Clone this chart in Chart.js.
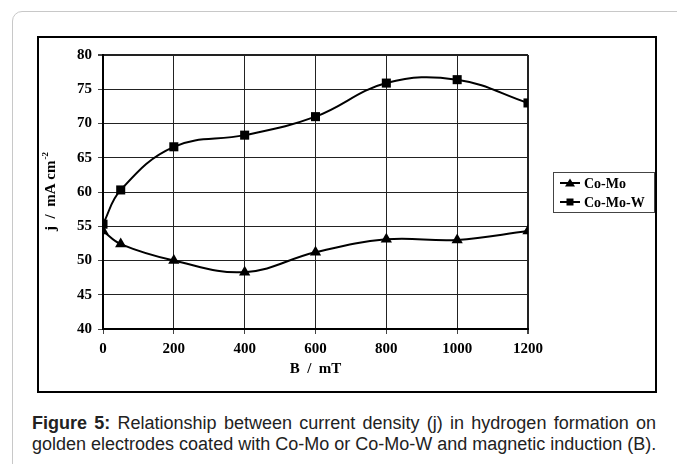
<!DOCTYPE html>
<html>
<head>
<meta charset="utf-8">
<script src="https://cdn.jsdelivr.net/npm/chart.js@4.4.1/dist/chart.umd.min.js"></script>
<style>
  html, body { margin: 0; padding: 0; background: #fff; }
  body { width: 677px; height: 464px; position: relative; overflow: hidden; }
  #frame {
    position: absolute; left: 12px; top: 11px; width: 700px; height: 470px;
    border: 1.5px solid #c8c8c8; border-radius: 10px; box-sizing: border-box;
  }
  #box {
    position: absolute; left: 37px; top: 36px; width: 620px; height: 357px;
    border: 2px solid #000; box-sizing: border-box;
  }
  #box canvas { position: absolute; left: 0; top: 0; }
  .cap {
    position: absolute; left: 32px; width: 624px; line-height: 21px;
    font-family: "Liberation Sans", Arial, sans-serif; font-size: 18px; color: #222;
    white-space: nowrap;
  }
  #cap1 { top: 413px; text-align: justify; text-align-last: justify; white-space: normal; }
  #cap2 { top: 434px; }
</style>
</head>
<body>
<div id="frame"></div>
<div id="box"><canvas id="jChart" width="616" height="353"></canvas></div>
<div class="cap" id="cap1"><b>Figure 5:</b> Relationship between current density (j) in hydrogen formation on</div>
<div class="cap" id="cap2">golden electrodes coated with Co-Mo or Co-Mo-W and magnetic induction (B).</div>
<script>
// B / mT
const fieldB = [0, 50, 200, 400, 600, 800, 1000, 1200];
// j / mA cm-2
const coMo = [54.3, 52.4, 50.0, 48.3, 51.2, 53.1, 53.0, 54.3];
const coMoW = [55.3, 60.3, 66.6, 68.3, 71.0, 75.9, 76.4, 73.0];
const seriesNames = ["Co-Mo", "Co-Mo-W"];

const serif = "'Liberation Serif', 'Times New Roman', serif";

function toPoints(ys) {
  return fieldB.map((b, i) => ({ x: b, y: ys[i] }));
}

// y axis title with a real superscript
const yTitle = {
  id: "yTitle",
  afterDraw(chart) {
    const { ctx, chartArea } = chart;
    const main = "j  /  mA cm";
    const sup = "-2";
    ctx.save();
    ctx.fillStyle = "#000";
    ctx.font = "bold 15px " + serif;
    const w1 = ctx.measureText(main).width;
    ctx.font = "bold 9px " + serif;
    const w2 = ctx.measureText(sup).width;
    const cy = (chartArea.top + chartArea.bottom) / 2;
    ctx.translate(11, cy);
    ctx.rotate(-Math.PI / 2);
    ctx.textBaseline = "alphabetic";
    const start = -(w1 + w2) / 2;
    ctx.font = "bold 15px " + serif;
    ctx.fillText(main, start, 5);
    ctx.font = "bold 9px " + serif;
    ctx.fillText(sup, start + w1 + 1, -2);
    ctx.restore();
  }
};

// boxed legend, line + marker like the original
const boxLegend = {
  id: "boxLegend",
  afterDraw(chart) {
    const { ctx, chartArea } = chart;
    const w = 101, h = 40;
    const x = Math.round(chartArea.right + 25);
    const y = Math.round((chartArea.top + chartArea.bottom) / 2 - h / 2);
    ctx.save();
    ctx.strokeStyle = "#444";
    ctx.lineWidth = 1;
    ctx.strokeRect(x + 0.5, y + 0.5, w, h);
    ctx.font = "bold 14px " + serif;
    ctx.textBaseline = "middle";
    chart.data.datasets.forEach((ds, i) => {
      const ry = y + 11 + i * 19;
      ctx.strokeStyle = "#000";
      ctx.lineWidth = 2;
      ctx.beginPath();
      ctx.moveTo(x + 7, ry);
      ctx.lineTo(x + 27, ry);
      ctx.stroke();
      ctx.fillStyle = "#000";
      ctx.beginPath();
      if (ds.pointStyle === "triangle") {
        ctx.moveTo(x + 17, ry - 4.5);
        ctx.lineTo(x + 22, ry + 3.5);
        ctx.lineTo(x + 12, ry + 3.5);
      } else {
        ctx.rect(x + 13.5, ry - 3.5, 7, 7);
      }
      ctx.closePath();
      ctx.fill();
      ctx.fillText(ds.label, x + 31, ry + 1);
    });
    ctx.restore();
  }
};

const ctx = document.getElementById("jChart").getContext("2d");
new Chart(ctx, {
  type: "line",
  data: {
    datasets: [
      {
        label: seriesNames[0],
        data: toPoints(coMo),
        borderColor: "#000",
        backgroundColor: "#000",
        borderWidth: 2,
        pointStyle: "triangle",
        pointRadius: 6.5,
        pointBorderWidth: 0,
        tension: 0.4,
      },
      {
        label: seriesNames[1],
        data: toPoints(coMoW),
        borderColor: "#000",
        backgroundColor: "#000",
        borderWidth: 2,
        pointStyle: "rect",
        pointRadius: 6.4,
        pointBorderWidth: 0,
        tension: 0.4,
      },
    ],
  },
  options: {
    responsive: false,
    animation: false,
    layout: { padding: { top: 17, right: 127, left: 0, bottom: 0 } },
    plugins: {
      legend: { display: false },
      tooltip: { enabled: false },
    },
    scales: {
      x: {
        type: "linear",
        min: 0,
        max: 1200,
        afterFit: (s) => { s.height = 62; },
        ticks: {
          stepSize: 200,
          padding: 6,
          color: "#000",
          font: { family: serif, size: 15, weight: "bold" },
          callback: (v) => String(v),
        },
        grid: {
          color: "#222",
          lineWidth: (c) => (c.tick && c.tick.value === 1200 ? 2 : 1),
          tickLength: 5,
          tickColor: "#444",
        },
        border: { color: "#000", width: 2 },
        title: {
          display: true,
          text: "B  /  mT",
          color: "#000",
          font: { family: serif, size: 15, weight: "bold" },
          padding: { top: 0, bottom: 13 },
        },
      },
      y: {
        min: 40,
        max: 80,
        afterFit: (s) => { s.width = 64; },
        ticks: {
          stepSize: 5,
          padding: 6,
          color: "#000",
          font: { family: serif, size: 15, weight: "bold" },
        },
        grid: {
          color: "#222",
          lineWidth: (c) => (c.tick && c.tick.value === 80 ? 2 : 1),
          tickLength: 5,
          tickColor: "#444",
        },
        border: { color: "#000", width: 2 },
      },
    },
  },
  plugins: [yTitle, boxLegend],
});
</script>
</body>
</html>
